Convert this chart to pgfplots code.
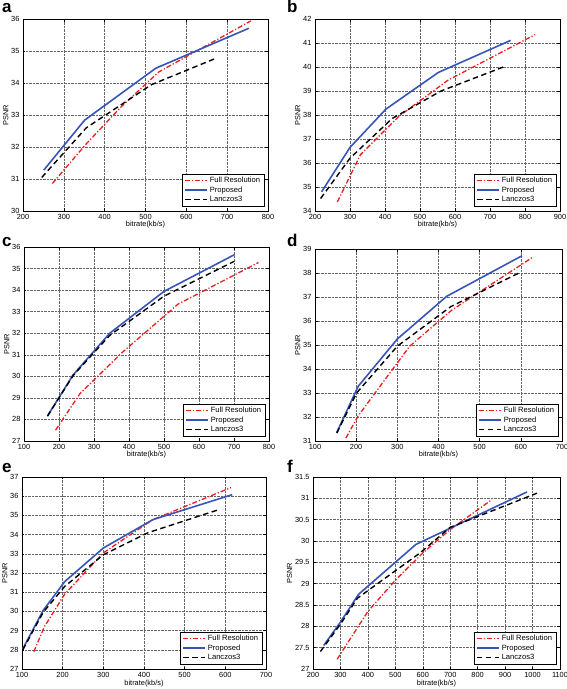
\documentclass[border=0pt]{standalone}
\usepackage{pgfplots}
\pgfplotsset{compat=1.18}
\usepackage{fontspec}
\setmainfont{Liberation Sans}
\definecolor{mred}{RGB}{235,30,30}
\definecolor{mblue}{RGB}{55,85,185}
\pgfplotsset{
 panel/.style={scale only axis, anchor=south west, width=245pt, height=192pt,
  grid=major, major grid style={densely dotted, black!60, line width=0.45pt},
  axis line style={line width=0.55pt}, tick align=inside, major tick length=2.5pt,
  tick style={black, line width=0.45pt},
  ticklabel style={font=\fontsize{7.4}{8}\selectfont},
  /pgf/number format/assume math mode=true, /pgf/number format/1000 sep={},
  label style={font=\fontsize{7.4}{8}\selectfont},
  xlabel={bitrate(kb/s)}, ylabel={PSNR},
  xlabel style={yshift=5pt}, ylabel style={yshift=-4pt},
  legend cell align=left,
  legend style={at={(0.985,0.025)}, anchor=south east, draw=black, fill=white, line width=0.5pt,
    font=\fontsize{7.6}{8}\selectfont, inner xsep=2pt, inner ysep=1pt, row sep=-1.5pt},
  legend image code/.code={\draw[##1] (0pt,0pt) -- (22pt,0pt);},
 },
 fr/.style={mred, line width=1.3pt, dash pattern=on 5pt off 2pt on 1.2pt off 2pt},
 pr/.style={mblue, line width=1.6pt},
 lz/.style={black, line width=1.4pt, dash pattern=on 5.5pt off 3.5pt},
}
\begin{document}
\begin{tikzpicture}
\useasboundingbox (0pt,0pt) rectangle (567pt,689pt);
% a
\begin{axis}[panel, at={(23pt,478pt)}, xmin=200, xmax=800, ymin=30, ymax=36,
  xtick={200,300,...,800}, ytick={30,31,...,36}]
\addplot[fr] coordinates {(272,30.86) (355,32.1) (440,33.25) (533,34.35) (758,35.94)};
\addplot[pr] coordinates {(251,31.28) (351,32.84) (525,34.46) (753,35.71)};
\addplot[lz] coordinates {(246,31.05) (355,32.6) (515,33.95) (672,34.77)};
\legend{Full Resolution, Proposed, Lanczos3}
\end{axis}
% b
\begin{axis}[panel, at={(315pt,478pt)}, xmin=200, xmax=900, ymin=34, ymax=42,
  xtick={200,300,...,900}, ytick={34,35,...,42}]
\addplot[fr] coordinates {(264,34.38) (330,36.35) (440,37.95) (580,39.45) (829,41.35)};
\addplot[pr] coordinates {(219,34.8) (300,36.65) (403,38.25) (552,39.77) (759,41.11)};
\addplot[lz] coordinates {(216,34.52) (300,36.2) (420,37.85) (560,39.0) (738,40.0)};
\legend{Full Resolution, Proposed, Lanczos3}
\end{axis}
% c
\begin{axis}[panel, at={(24pt,248pt)}, height=194pt, xmin=100, xmax=800, ymin=27, ymax=36,
  xtick={100,200,...,800}, ytick={27,28,...,36}]
\addplot[fr] coordinates {(190,27.5) (260,29.2) (380,31.1) (540,33.35) (770,35.28)};
\addplot[pr] coordinates {(167,28.16) (240,30.06) (345,32.0) (500,33.94) (702,35.65)};
\addplot[lz] coordinates {(167,28.15) (240,30.03) (345,31.9) (500,33.72) (700,35.33)};
\legend{Full Resolution, Proposed, Lanczos3}
\end{axis}
% d
\begin{axis}[panel, at={(315pt,248pt)}, width=247pt, xmin=100, xmax=700, ymin=31, ymax=39,
  xtick={100,200,...,700}, ytick={31,32,...,39}]
\addplot[fr] coordinates {(175,31.12) (205,32.05) (330,34.95) (432,36.45) (630,38.67)};
\addplot[pr] coordinates {(153,31.36) (205,33.28) (300,35.25) (420,37.03) (603,38.72)};
\addplot[lz] coordinates {(153,31.33) (201,33.0) (300,34.95) (430,36.6) (599,38.03)};
\legend{Full Resolution, Proposed, Lanczos3}
\end{axis}
% e
\begin{axis}[panel, at={(22pt,20pt)}, width=244pt, xmin=100, xmax=700, ymin=27, ymax=37,
  xtick={100,200,...,700}, ytick={27,28,...,37}]
\addplot[fr] coordinates {(129,27.9) (155,29.2) (205,30.9) (300,33.05) (422,34.78) (614,36.45)};
\addplot[pr] coordinates {(102,28.05) (152,30.05) (205,31.55) (300,33.3) (422,34.78) (617,36.08)};
\addplot[lz] coordinates {(102,28.0) (152,29.95) (205,31.3) (300,32.95) (410,34.1) (584,35.3)};
\legend{Full Resolution, Proposed, Lanczos3}
\end{axis}
% f
\begin{axis}[panel, at={(313pt,20pt)}, width=247pt, xmin=200, xmax=1100, ymin=27, ymax=31.5,
  xtick={200,300,...,1100}, ytick={27,27.5,...,31.5}]
\addplot[fr] coordinates {(288,27.23) (400,28.35) (500,29.08) (600,29.72) (700,30.27) (852,30.97)};
\addplot[pr] coordinates {(239,27.55) (300,28.1) (366,28.75) (575,29.92) (980,31.15)};
\addplot[lz] coordinates {(227,27.41) (300,28.05) (362,28.66) (590,29.72) (700,30.32) (1016,31.12)};
\legend{Full Resolution, Proposed, Lanczos3}
\end{axis}
% panel letters
\node[anchor=base west, inner sep=0pt, font=\fontsize{17}{17}\selectfont\bfseries] at (2pt,676pt) {a};
\node[anchor=base west, inner sep=0pt, font=\fontsize{17}{17}\selectfont\bfseries] at (287pt,676pt) {b};
\node[anchor=base west, inner sep=0pt, font=\fontsize{17}{17}\selectfont\bfseries] at (2pt,442pt) {c};
\node[anchor=base west, inner sep=0pt, font=\fontsize{17}{17}\selectfont\bfseries] at (287pt,442pt) {d};
\node[anchor=base west, inner sep=0pt, font=\fontsize{17}{17}\selectfont\bfseries] at (2pt,216pt) {e};
\node[anchor=base west, inner sep=0pt, font=\fontsize{17}{17}\selectfont\bfseries] at (287pt,216pt) {f};
\end{tikzpicture}
\end{document}
